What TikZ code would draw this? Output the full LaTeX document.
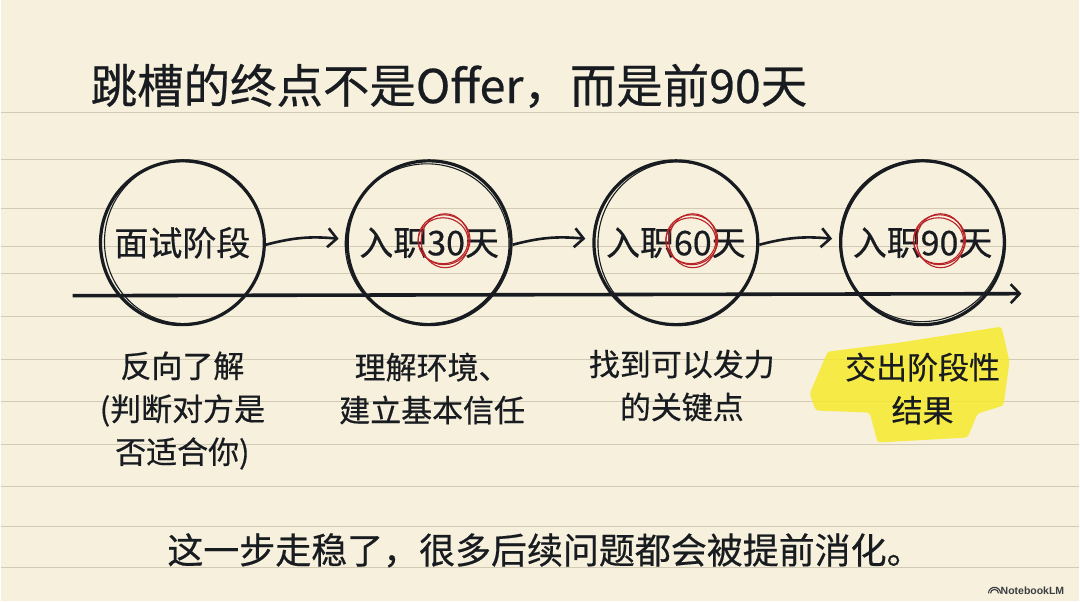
\documentclass[tikz,border=0pt]{standalone}
\usepackage{fontspec}
\setmainfont{Noto Sans CJK SC}[UprightFeatures={FakeBold=0.5}]
\newfontfamily\logofont{Liberation Sans}
\usetikzlibrary{arrows.meta,calc,positioning}
\definecolor{paper}{RGB}{246,240,220}
\definecolor{rulecol}{RGB}{210,202,180}
\definecolor{ink}{RGB}{24,28,32}
\definecolor{redink}{RGB}{185,35,40}
\definecolor{marker}{RGB}{247,233,45}

\begin{document}
\begin{tikzpicture}[x=1pt,y=-1pt,
  stage/.style={circle, draw=ink, line width=3.2pt, minimum size=164pt, inner sep=0pt,
    text=ink, font=\fontsize{34}{36}\selectfont},
  sketch/.style={draw=ink, line width=1.1pt},
  ring/.style={draw=redink, line width=1.1pt},
  flow/.style={-{Straight Barb[length=9pt,width=19pt,line width=2.6pt]}, draw=ink, line width=2.6pt},
  note/.style={align=center, text=ink, inner sep=0pt, font=\fontsize{31}{43}\selectfont}
]

% ================= PAPER =================
\fill[paper] (0,0) rectangle (1080,602);
\draw[rulecol, line width=1.2pt]
  (0,113) -- (1080,113) (0,160) -- (1080,160) (0,209) -- (1080,209)
  (0,247) -- (1080,247) (0,274) -- (1080,274) (0,317) -- (1080,317)
  (0,360) -- (1080,360) (0,402) -- (1080,402) (0,445) -- (1080,445)
  (0,487) -- (1080,487) (0,527) -- (1080,527) (0,568) -- (1080,568);

% ================= TITLE =================
\node[anchor=west, inner sep=0pt, text=ink, font=\fontsize{46.5}{50}\selectfont]
  (title) at (90,86) {跳槽的终点不是Offer，而是前90天};

% ================= TIMELINE =================
\coordinate (axL) at (72,296);
\coordinate (axR) at (1022,294);
\draw[flow, line width=3.6pt] (axL) -- (axR);

% --- stage circles ---
\node[stage] (c1) at (182,243) {面试阶段};
\node[stage] (c2) at (429,243) {入职30天};
\node[stage] (c3) at (676,243) {入职60天};
\node[stage] (c4) at (923,243) {入职90天};

% --- second pencil stroke ---
\draw[sketch] ($(c1)+(2,-1)$) ellipse (80pt and 82pt);
\draw[sketch] ($(c2)+(-2,1)$) ellipse (82pt and 80pt);
\draw[sketch] ($(c3)+(2,1)$) ellipse (80pt and 82pt);
\draw[sketch] ($(c4)+(-1,-2)$) ellipse (82pt and 81pt);

% --- red rings on the day counts ---
\draw[ring] ($(c2)+(15,-3)$) ellipse (26pt and 25pt);
\draw[ring] ($(c2)+(16,-2)$) ellipse (24pt and 27pt);
\draw[ring] ($(c2)+(14,-2)$) ellipse (25pt and 23pt);
\draw[ring] ($(c3)+(16,-3)$) ellipse (26pt and 25pt);
\draw[ring] ($(c3)+(17,-2)$) ellipse (24pt and 27pt);
\draw[ring] ($(c3)+(15,-2)$) ellipse (25pt and 23pt);
\draw[ring] ($(c4)+(17,-3)$) ellipse (26pt and 25pt);
\draw[ring] ($(c4)+(18,-2)$) ellipse (24pt and 27pt);
\draw[ring] ($(c4)+(16,-2)$) ellipse (25pt and 23pt);

% --- arrows between stages ---
\draw[flow] ([yshift=-2pt]c1.east) to[bend left=10] ([xshift=-7pt,yshift=4pt]c2.west);
\draw[flow] ([yshift=-2pt]c2.east) to[bend left=10] ([xshift=-7pt,yshift=4pt]c3.west);
\draw[flow] ([yshift=-2pt]c3.east) to[bend left=10] ([xshift=-7pt,yshift=4pt]c4.west);

% ================= NOTES =================
\fill[marker, opacity=0.85, rounded corners=3pt]
  (810,394) -- (828,352) -- (900,343) -- (1002,327) -- (1010,362) -- (1004,406)
  -- (978,414) -- (968,438) -- (878,443) -- (870,413) -- (816,411) -- cycle;

\node[note] (n1) at (182,411) {反向了解\\(判断对方是\\否适合你)};
\node[note] (n2) at (432,389) {理解环境、\\建立基本信任};
\node[note] (n3) at (682,386) {找到可以发力\\的关键点};
\node[note] (n4) at (923,389) {交出阶段性\\结果};

% ================= TAKEAWAY =================
\node[inner sep=0pt, text=ink, font=\fontsize{36}{40}\selectfont]
  (takeaway) at (545,551) {这一步走稳了，很多后续问题都会被提前消化。};

% ================= LOGO =================
\node[anchor=west, inner sep=0pt, text=ink!85, font=\logofont\bfseries\fontsize{10.5}{12}\selectfont]
  (logo) at (1001,591) {NotebookLM};
\draw[ink!85, line width=1.1pt] ([xshift=-10pt,yshift=-3pt]logo.west) arc (180:0:4pt)
  ([xshift=-12pt,yshift=-3pt]logo.west) arc (180:0:6pt);

\end{tikzpicture}
\end{document}
